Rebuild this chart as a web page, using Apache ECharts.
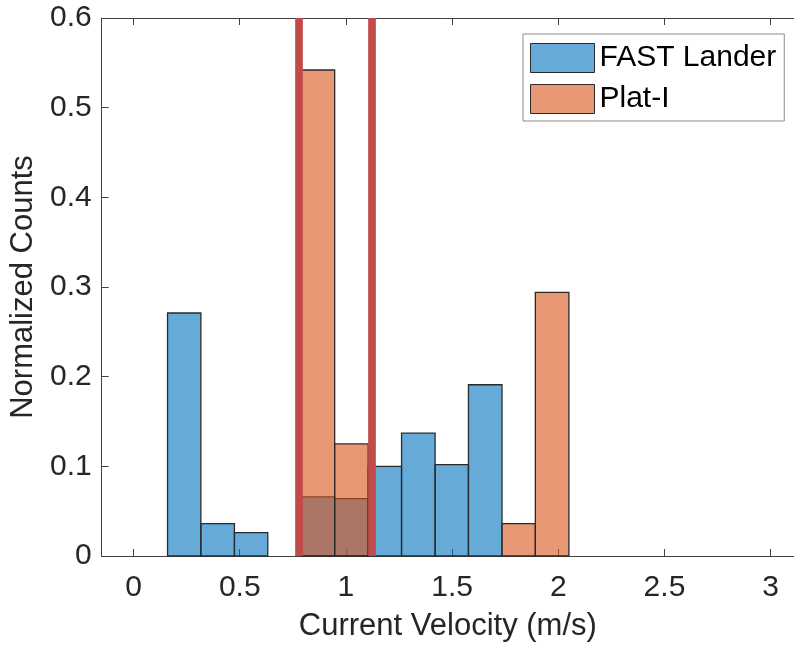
<!DOCTYPE html>
<html>
<head>
<meta charset="utf-8">
<script src="https://cdn.jsdelivr.net/npm/echarts@6/dist/echarts.min.js"></script>
<style>
html,body{margin:0;padding:0;background:#fff;}
#chart{width:794px;height:647px;}
</style>
</head>
<body>
<div id="chart"></div>
<script>
// Histogram bin edges (m/s)
const binEdges = [0.160, 0.317, 0.475, 0.632, 0.790, 0.947, 1.105, 1.262, 1.420, 1.577, 1.735, 1.892, 2.050];
// Normalized counts per bin
const fastLander = [0.271, 0.036, 0.026, 0, 0.066, 0.064, 0.100, 0.137, 0.102, 0.191, 0, 0];
const platI      = [0, 0, 0, 0, 0.542, 0.125, 0, 0, 0, 0, 0.036, 0.294];
// Vertical reference lines (m/s)
const refLines = [0.780, 1.119];
// Tick labels
const xTicks = [0, 0.5, 1, 1.5, 2, 2.5, 3];
const seriesNames = ['FAST Lander', 'Plat-I'];
const xLabel = 'Current Velocity (m/s)';
const yLabel = 'Normalized Counts';

function toBins(vals) {
  const out = [];
  for (let i = 0; i < vals.length; i++) out.push([binEdges[i], binEdges[i + 1], vals[i]]);
  return out;
}

const FONT = 'Liberation Sans, Arial, Helvetica, sans-serif';
const TXT = '#262626';
const AX = '#404040';

function renderBar(fill) {
  return function (params, api) {
    const v = api.value(2);
    if (!v) return null;
    const p0 = api.coord([api.value(0), v]);
    const p1 = api.coord([api.value(1), 0]);
    return {
      type: 'rect',
      shape: { x: p0[0], y: p0[1], width: p1[0] - p0[0], height: p1[1] - p0[1] },
      style: { fill: fill, stroke: '#2a2a2a', lineWidth: 1.3 }
    };
  };
}

const chart = echarts.init(document.getElementById('chart'), null, { renderer: 'canvas' });
chart.setOption({
  animation: false,
  backgroundColor: '#fff',
  textStyle: { fontFamily: FONT },
  grid: { left: 101.7, top: 18, bottom: 89, width: 694 },
  legend: {
    left: 523, top: 34,
    orient: 'vertical',
    itemWidth: 64, itemHeight: 29, itemGap: 11,
    padding: [9, 8, 7, 7],
    borderColor: '#8c8c8c', borderWidth: 1,
    backgroundColor: '#fff',
    textStyle: { fontFamily: FONT, fontSize: 30, color: '#000' },
    data: [
      { name: seriesNames[0], icon: 'rect', itemStyle: { color: 'rgba(0,114,189,0.6)', borderColor: '#2a2a2a', borderWidth: 1 } },
      { name: seriesNames[1], icon: 'rect', itemStyle: { color: 'rgba(217,83,25,0.6)', borderColor: '#2a2a2a', borderWidth: 1 } }
    ]
  },
  xAxis: [{
    type: 'value', min: -0.15, max: 3.11, position: 'bottom',
    name: xLabel, nameLocation: 'middle', nameGap: 55,
    nameTextStyle: { fontFamily: FONT, fontSize: 31, color: TXT },
    axisLine: { show: true, onZero: false, lineStyle: { color: AX, width: 1 } },
    axisTick: { show: true, inside: true, length: 7, customValues: xTicks, lineStyle: { color: AX } },
    axisLabel: { show: true, customValues: xTicks, margin: 17, fontFamily: FONT, fontSize: 30, color: TXT },
    splitLine: { show: false }
  }, {
    type: 'value', min: -0.15, max: 3.11, position: 'top',
    axisLine: { show: true, onZero: false, lineStyle: { color: AX, width: 1 } },
    axisTick: { show: true, inside: true, length: 7, customValues: xTicks, lineStyle: { color: AX } },
    axisLabel: { show: false },
    splitLine: { show: false }
  }],
  yAxis: {
    type: 'value', min: 0, max: 0.6, interval: 0.1,
    name: yLabel, nameLocation: 'middle', nameGap: 62, nameRotate: 90,
    nameTextStyle: { fontFamily: FONT, fontSize: 31, color: TXT },
    axisLine: { show: true, onZero: false, lineStyle: { color: AX, width: 1 } },
    axisTick: { show: true, inside: true, length: 7, lineStyle: { color: AX } },
    axisLabel: { margin: 10, fontFamily: FONT, fontSize: 30, color: TXT },
    splitLine: { show: false }
  },
  series: [{
    name: seriesNames[0], type: 'custom', xAxisIndex: 0,
    renderItem: renderBar('rgba(0,114,189,0.6)'),
    encode: { x: [0, 1], y: 2 },
    itemStyle: { color: 'rgba(0,114,189,0.6)' },
    data: toBins(fastLander), z: 2
  }, {
    name: seriesNames[1], type: 'custom', xAxisIndex: 0,
    renderItem: renderBar('rgba(217,83,25,0.6)'),
    encode: { x: [0, 1], y: 2 },
    itemStyle: { color: 'rgba(217,83,25,0.6)' },
    data: toBins(platI), z: 3,
    markLine: {
      silent: true, symbol: 'none', animation: false,
      label: { show: false },
      lineStyle: { color: '#C14A4A', width: 7.7, type: 'solid', opacity: 1 },
      data: refLines.map(v => ({ xAxis: v })),
      z: 5
    }
  }]
});
</script>
</body>
</html>
